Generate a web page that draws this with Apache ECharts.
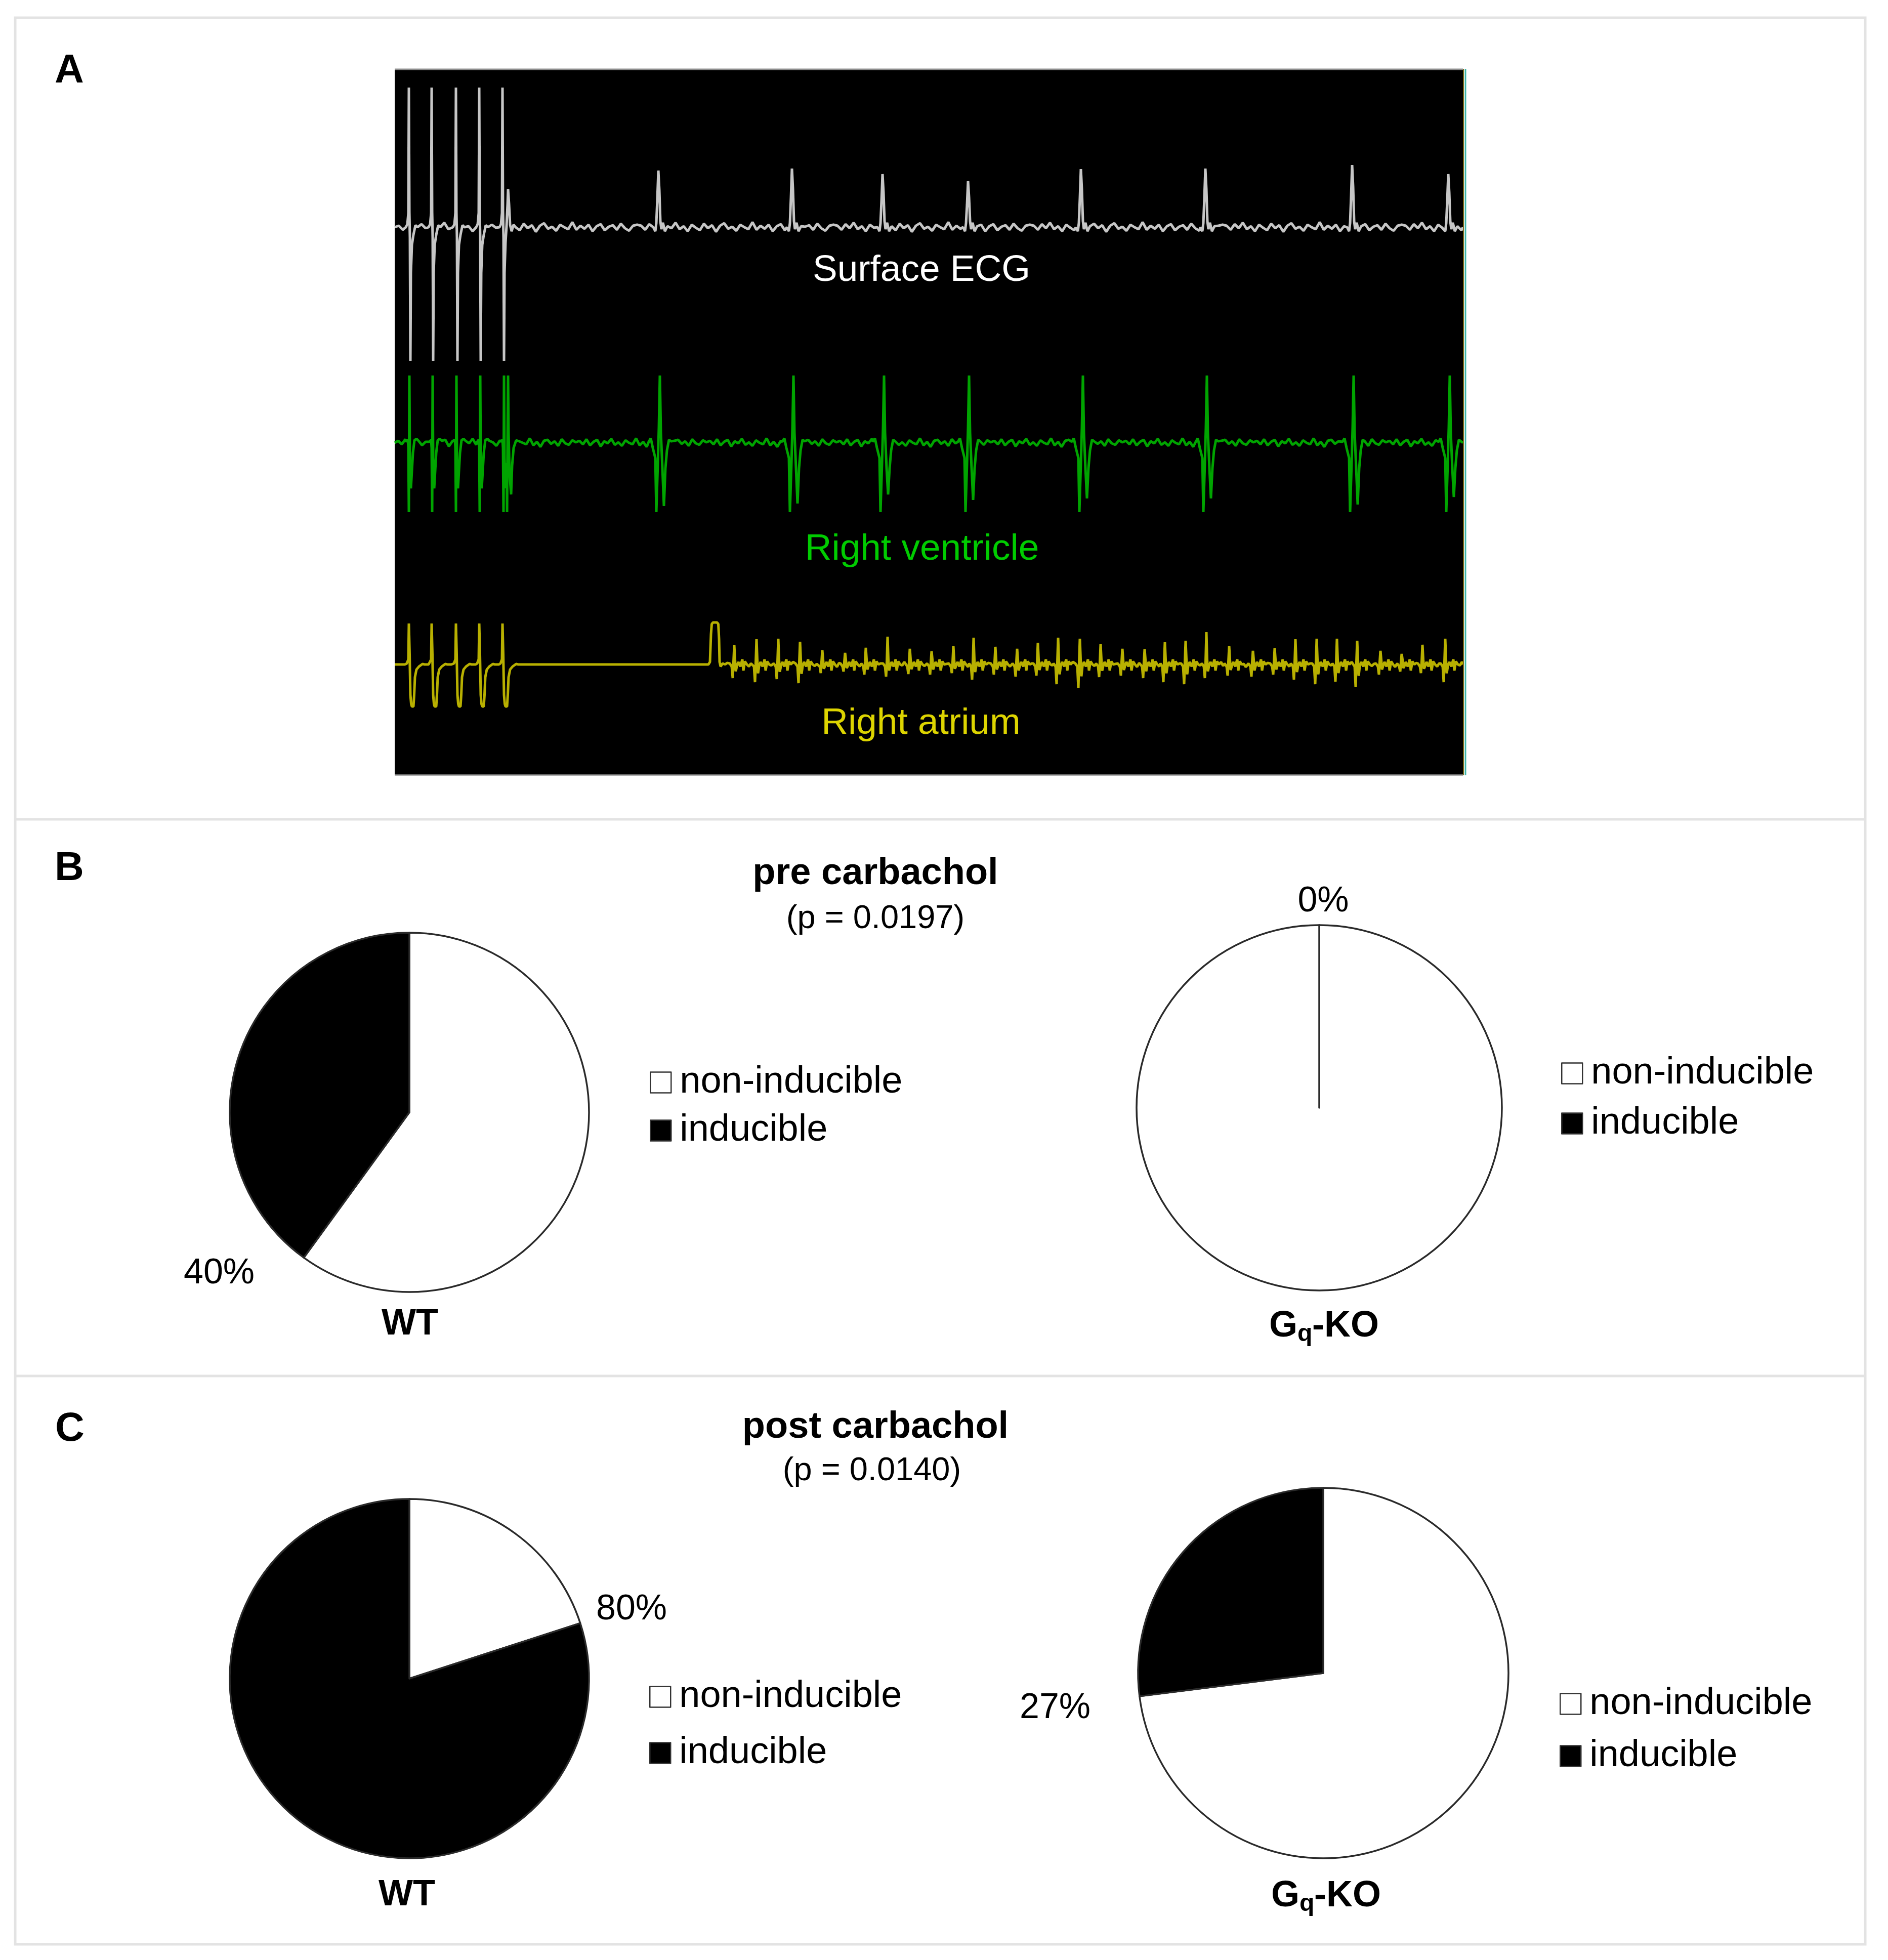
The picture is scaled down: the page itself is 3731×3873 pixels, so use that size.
<!DOCTYPE html>
<html>
<head>
<meta charset="utf-8">
<script src="https://cdn.jsdelivr.net/npm/echarts@6/dist/echarts.min.js"></script>
<style>
html,body{margin:0;padding:0;background:#ffffff;}
#chart{width:3731px;height:3873px;}
</style>
</head>
<body>
<div id="chart"></div>
<script>
// ---------------- DATA ----------------
// Panel A: intracardiac recording (time in samples from the left edge of the window, amplitude in arbitrary units)
const paceTimes      = [28, 73, 121, 167, 213];          // stimulation artefacts (surface ECG & right atrium)
const rvPaceTimes    = [29, 75, 122, 169, 216];          // stimulation artefacts seen in right ventricle
const ecgPaceUp      = 2.76;
const ecgPaceDown    = -2.64;
const ecgCaptureAmp  = 0.75;                              // captured beat right after the last stimulus
const ecgBeatTimes   = [521, 785, 964, 1133, 1356, 1602, 1892, 2082];
const ecgBeatAmp     = [1.12, 1.16, 1.05, 0.91, 1.15, 1.16, 1.23, 1.05];
const ecgRipple      = [0.03,-0.05,0.06,-0.02,0.09,-0.04,0.02,-0.08,0.05,-0.01,-0.06,0.07,-0.02,0.04,-0.09,0.03,0.08,-0.03,0.01,-0.07,0.05,0.0,-0.04,0.1,-0.05,0.03,-0.03,0.05,-0.08,0.02,0.06,-0.06,0.01,0.04,-0.05,0.07,-0.02,-0.07,0.03,0.05];

const rvPaceUp       = 1.33;
const rvPaceDown     = -1.37;
const rvBeatTimes    = [524, 788, 967, 1135, 1360, 1605, 1895, 2085];
const rvBeatDip      = [-1.25, -1.2, -1.02, -1.13, -1.1, -1.1, -1.22, -1.07];
const rvRipple       = [0.04,-0.03,0.07,-0.05,0.02,0.06,-0.07,0.03,-0.01,0.08,-0.04,0.01,-0.06,0.05,0.0,-0.03,0.09,-0.05,0.02,-0.08,0.04,0.06,-0.02,0.03,-0.06,0.07,-0.01,-0.04,0.05,0.01];

const raPaceUp       = 0.81;
const raPaceDown     = -0.83;
const raBumpTime     = 625;
const raBumpHeight   = 0.83;
const raFibTimes     = [671, 715, 758, 801, 845, 890, 931, 974, 1018, 1061, 1104, 1144, 1187, 1230, 1271, 1311, 1354, 1395, 1438, 1482, 1522, 1563, 1604, 1649, 1696, 1739, 1780, 1822, 1862, 1902, 1948, 1990, 2031, 2076];
const raFibTop       = [0.38, 0.50, 0.51, 0.45, 0.28, 0.23, 0.33, 0.55, 0.31, 0.26, 0.36, 0.53, 0.35, 0.31, 0.43, 0.53, 0.51, 0.40, 0.31, 0.30, 0.44, 0.47, 0.64, 0.36, 0.27, 0.32, 0.50, 0.51, 0.51, 0.47, 0.27, 0.21, 0.39, 0.51];
const raFibBottom    = [-0.27, -0.35, -0.29, -0.37, -0.17, -0.14, -0.20, -0.24, -0.19, -0.20, -0.17, -0.30, -0.20, -0.24, -0.22, -0.39, -0.47, -0.25, -0.22, -0.27, -0.35, -0.39, -0.27, -0.22, -0.24, -0.20, -0.30, -0.39, -0.34, -0.45, -0.20, -0.14, -0.17, -0.35];
const raRipple       = [0.03,-0.04,0.02,-0.02,0.05,-0.03,0.01,-0.05];
const recordingEnd   = 2111;

const traceNames     = ['Surface ECG', 'Right ventricle', 'Right atrium'];

// Panels B and C: inducibility of arrhythmia (%)
const groups         = ['WT', 'Gq-KO'];
const categories     = ['non-inducible', 'inducible'];
const conditions     = ['pre carbachol', 'post carbachol'];
const pValues        = ['0.0197', '0.0140'];
const inducibleShare = { pre: [40, 0], post: [80, 27] };

// ---------------- WAVEFORM SHAPES (read from the recording) ----------------
const ecgPaceShape = () => [[-6,0],[-3,0.06],[-1,0.28],[0,ecgPaceUp],[1,0.3],[2,-0.2],[3,ecgPaceDown],[4,-0.9],[6,-0.35],[9,-0.15],[13,0.04],[17,0]];
const ecgPaceCaptureShape = () => [[-6,0],[-3,0.06],[-1,0.28],[0,ecgPaceUp],[1,0.3],[2,-0.2],[3,ecgPaceDown],[4,-0.9],[6,-0.3],[8,0.02],[10,0.6*ecgCaptureAmp],[11,ecgCaptureAmp],[13,0.45],[15,0.05],[18,-0.08],[22,0.05],[26,0]];
const ecgBeatShape = p => [[-10,0],[-6,-0.08],[-4,0.08],[-2,0.5*p],[0,p],[2,0.65*p],[4,0.12],[6,-0.04],[9,0.09],[13,-0.08],[18,0.02]];

const rvPaceShape = () => [[-6,0.02],[-3,0.06],[-2,-0.1],[-1,rvPaceDown],[0,rvPaceUp],[1,-0.3],[3,-0.9],[5,-0.55],[7,-0.2],[10,0.05],[14,0.08],[18,0.04]];
const rvPaceCaptureShape = () => [[-6,0.02],[-3,0.06],[-2,-0.1],[-1,rvPaceDown],[0,rvPaceUp],[1,-0.3],[3,-0.9],[5,-0.4],[6,rvPaceDown],[8,rvPaceUp],[9,0.2],[11,-0.6],[14,-1.02],[16,-0.45],[19,-0.1],[24,0.05],[30,0.03]];
const rvBeatShape = d => [[-22,0.02],[-18,0.09],[-14,-0.1],[-9,-0.3],[-7,rvPaceDown],[-4,-0.4],[-2,0.3],[0,rvPaceUp],[2,0.2],[5,-0.5],[8,d],[11,-0.5],[14,-0.15],[18,0.06],[22,0.03]];

const raPaceShape = () => [[-4,0.02],[-1,0.1],[0,raPaceUp],[1.5,0.2],[3,-0.6],[4.5,-0.78],[6,raPaceDown],[9,raPaceDown],[10.5,-0.6],[12,-0.25],[15,-0.1],[20,-0.04],[27,0.01]];
const raBumpShape = () => [[-5,0],[-2,0.05],[0,0.72*raBumpHeight],[1.5,0.96*raBumpHeight],[4,raBumpHeight],[12,raBumpHeight],[14.5,0.96*raBumpHeight],[16,0.6*raBumpHeight],[17,0.05],[19,-0.04],[23,0.02],[28,0]];
const raFibShape = (a, b) => [[-9,0.02],[-5,-0.04],[-3,b],[-1.5,0.05],[0,a],[1.5,0.1],[3,0.5*b],[5,-0.04],[8,0.05],[12,-0.04],[16,0.1],[18,-0.12],[21,0.06],[25,0]];

// ---------------- LAYOUT ----------------
const FONT = '"Liberation Sans", Arial, Helvetica, sans-serif';
const baseECG = 0, baseRV = -4.26, baseRA = -8.64;   // vertical offsets of the three channels

function buildTrace(base, events, ripple, step, end, rippleFrom) {
  const pts = [[0, base]];
  let cursor = 0, k = 0;
  const fill = (from, to) => {
    for (let t = from + step; t < to; t += step) {
      const v = (ripple && t >= rippleFrom) ? ripple[k++ % ripple.length] : 0;
      pts.push([t, base + v]);
    }
  };
  events.forEach(ev => {
    const first = ev.t + ev.shape[0][0];
    fill(cursor, first - 1);
    ev.shape.forEach(([dt, v]) => pts.push([ev.t + dt, base + v]));
    cursor = ev.t + ev.shape[ev.shape.length - 1][0];
  });
  fill(cursor, end);
  pts.push([end, base]);
  return pts;
}

const ecgEvents = [];
paceTimes.forEach((t, i) => ecgEvents.push({ t, shape: i === paceTimes.length - 1 ? ecgPaceCaptureShape() : ecgPaceShape() }));
ecgBeatTimes.forEach((t, i) => ecgEvents.push({ t, shape: ecgBeatShape(ecgBeatAmp[i]) }));

const rvEvents = [];
rvPaceTimes.forEach((t, i) => rvEvents.push({ t, shape: i === rvPaceTimes.length - 1 ? rvPaceCaptureShape() : rvPaceShape() }));
rvBeatTimes.forEach((t, i) => rvEvents.push({ t, shape: rvBeatShape(rvBeatDip[i]) }));

const raEvents = [];
paceTimes.forEach(t => raEvents.push({ t, shape: raPaceShape() }));
raEvents.push({ t: raBumpTime, shape: raBumpShape() });
raFibTimes.forEach((t, i) => raEvents.push({ t, shape: raFibShape(raFibTop[i], raFibBottom[i]) }));

const ecgData = buildTrace(baseECG, ecgEvents, ecgRipple, 8, recordingEnd, 0);
const rvData  = buildTrace(baseRV, rvEvents, rvRipple, 7, recordingEnd, 0);
const raData  = buildTrace(baseRA, raEvents, raRipple, 4, recordingEnd, raBumpTime + 20);

function pieSeries(center, radius, inducible) {
  return {
    type: 'pie', center, radius, startAngle: 90, clockwise: true,
    silent: true, animation: false,
    label: { show: false }, labelLine: { show: false },
    emphasis: { disabled: true },
    itemStyle: { borderColor: '#2a2a2a', borderWidth: 3.5 },
    data: [
      { name: categories[0], value: 100 - inducible, itemStyle: { color: '#ffffff' } },
      { name: categories[1], value: inducible, itemStyle: { color: '#000000' } }
    ]
  };
}

function legendAt(left, top, gap) {
  return {
    data: categories, orient: 'vertical', left, top, padding: 0,
    itemWidth: 41, itemHeight: 41, itemGap: gap, icon: 'rect', selectedMode: false,
    itemStyle: { borderColor: '#333', borderWidth: 2.5 },
    textStyle: { fontSize: 74, fontFamily: FONT, color: '#000', lineHeight: 74, padding: [0, 0, 0, 12] }
  };
}

function txt(x, y, text, size, weight, color, align) {
  return {
    type: 'text', z: 50, silent: true,
    style: {
      x, y, text, fill: color || '#000',
      font: (weight || 'normal') + ' ' + size + 'px ' + FONT,
      align: align || 'center', verticalAlign: 'middle',
      textAlign: align || 'center', textVerticalAlign: 'middle'
    }
  };
}

function gqLabel(xLeft, y) {
  return [
    txt(xLeft, y, groups[1].charAt(0), 72, 'bold', '#000', 'left'),
    txt(xLeft + 56, y + 16, groups[1].charAt(1), 48, 'bold', '#000', 'left'),
    txt(xLeft + 85, y, groups[1].slice(2), 72, 'bold', '#000', 'left')
  ];
}

const frameColor = '#e3e3e3';
const graphics = [
  { type: 'rect', z: 1, silent: true, shape: { x: 30, y: 35, width: 3656, height: 3807 }, style: { fill: 'none', stroke: frameColor, lineWidth: 5 } },
  { type: 'line', z: 1, silent: true, shape: { x1: 30, y1: 1619, x2: 3686, y2: 1619 }, style: { stroke: frameColor, lineWidth: 5 } },
  { type: 'line', z: 1, silent: true, shape: { x1: 30, y1: 2719, x2: 3686, y2: 2719 }, style: { stroke: frameColor, lineWidth: 5 } },
  { type: 'line', z: 20, silent: true, shape: { x1: 2892, y1: 136, x2: 2892, y2: 1532 }, style: { stroke: '#7a6a18', lineWidth: 2 } },
  { type: 'line', z: 20, silent: true, shape: { x1: 2896, y1: 136, x2: 2896, y2: 1532 }, style: { stroke: '#3cb4a8', lineWidth: 3 } },
  { type: 'line', z: 20, silent: true, shape: { x1: 780, y1: 137, x2: 2891, y2: 137 }, style: { stroke: '#8c8c8c', lineWidth: 3 } },
  { type: 'line', z: 20, silent: true, shape: { x1: 780, y1: 1531, x2: 2891, y2: 1531 }, style: { stroke: '#6a6a6a', lineWidth: 3 } },
  txt(137, 141, 'A', 80, 'bold'),
  txt(137, 1717, 'B', 80, 'bold'),
  txt(138, 2825, 'C', 80, 'bold'),
  txt(1821, 535, traceNames[0], 73, 'normal', '#ffffff'),
  txt(1822, 1086, traceNames[1], 73, 'normal', '#00cc00'),
  txt(1820, 1430, traceNames[2], 73, 'normal', '#ddd400'),
  txt(1730, 1727, conditions[0], 74, 'bold'),
  txt(1730, 1816, '(p = ' + pValues[0] + ')', 65, 'normal'),
  txt(1730, 2821, conditions[1], 74, 'bold'),
  txt(1723, 2907, '(p = ' + pValues[1] + ')', 65, 'normal'),
  txt(433, 2517, inducibleShare.pre[0] + '%', 70, 'normal'),
  txt(2615, 1782, inducibleShare.pre[1] + '%', 70, 'normal'),
  txt(1248, 3181, inducibleShare.post[0] + '%', 70, 'normal'),
  txt(2085, 3376, inducibleShare.post[1] + '%', 70, 'normal'),
  txt(810, 2617, groups[0], 72, 'bold'),
  txt(804, 3745, groups[0], 72, 'bold'),
  ...gqLabel(2508, 2621),
  ...gqLabel(2512, 3747)
];

const chart = echarts.init(document.getElementById('chart'), null, { renderer: 'canvas', width: 3731, height: 3873 });
chart.setOption({
  backgroundColor: '#ffffff',
  animation: false,
  grid: [{ left: 780, top: 136, width: 2111, height: 1396, show: true, backgroundColor: '#000000', borderWidth: 0 }],
  xAxis: [{ type: 'value', gridIndex: 0, min: 0, max: recordingEnd, show: false }],
  yAxis: [{ type: 'value', gridIndex: 0, min: -10.83, max: 3.13, show: false }],
  legend: [
    legendAt(1284, 2102, 21),
    legendAt(3085, 2084, 25),
    legendAt(1283, 3316, 37),
    legendAt(3082, 3330, 29)
  ],
  graphic: graphics,
  series: [
    { type: 'line', name: traceNames[0], data: ecgData, showSymbol: false, symbol: 'none', silent: true, z: 3,
      lineStyle: { color: '#c6c6c6', width: 5 } },
    { type: 'line', name: traceNames[1], data: rvData, showSymbol: false, symbol: 'none', silent: true, z: 3,
      lineStyle: { color: '#00a400', width: 5 } },
    { type: 'line', name: traceNames[2], data: raData, showSymbol: false, symbol: 'none', silent: true, z: 3,
      lineStyle: { color: '#b8b000', width: 5 } },
    pieSeries([809, 2198], 355, inducibleShare.pre[0]),
    pieSeries([2607, 2189], 361, inducibleShare.pre[1]),
    pieSeries([809, 3317], 355, inducibleShare.post[0]),
    pieSeries([2615, 3306], 366, inducibleShare.post[1])
  ]
});
</script>
</body>
</html>
